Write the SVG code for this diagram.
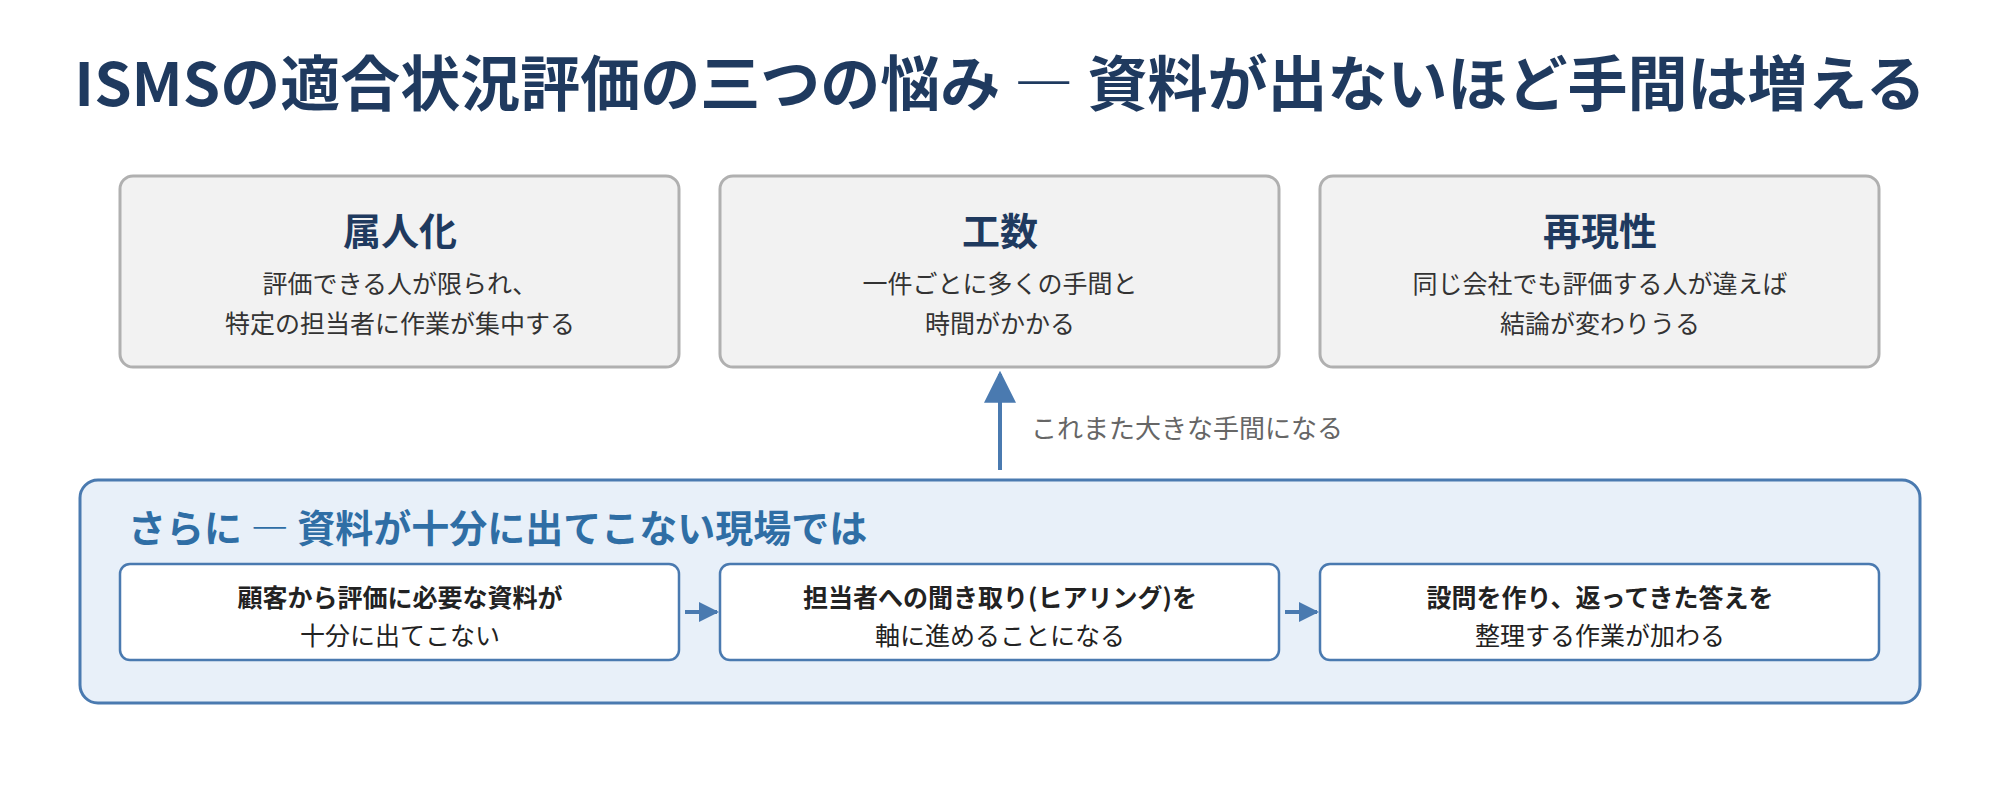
<svg xmlns="http://www.w3.org/2000/svg" width="2000" height="800" viewBox="0 0 2000 800">
<defs>
<style>
text{font-family:"Noto Sans CJK JP","Noto Sans",sans-serif;text-anchor:middle;dominant-baseline:central}
.title{font-size:60px;font-weight:700;fill:#1f3a5f}
.card{fill:#f2f2f2;stroke:#b0b0b0;stroke-width:3}
.h{font-size:38px;font-weight:700;fill:#1f3a5f}
.b{font-size:25px;fill:#333}
.step{fill:#fff;stroke:#4a7ab0;stroke-width:2.5}
.s1{font-size:25px;font-weight:700;fill:#222}
.s2{font-size:25px;fill:#222}
.lab{font-size:26px;fill:#666;text-anchor:start}
</style>
<marker id="ah" viewBox="0 0 10 10" refX="9" refY="5" markerWidth="8" markerHeight="8" orient="auto"><path d="M0,0L10,5L0,10z" fill="#4a7ab0"/></marker>
<marker id="ahs" viewBox="0 0 10 10" refX="9" refY="5" markerWidth="5" markerHeight="5" orient="auto"><path d="M0,0L10,5L0,10z" fill="#4a7ab0"/></marker>
</defs>
<text class="title" x="1000" y="79">ISMSの適合状況評価の三つの悩み ― 資料が出ないほど手間は増える</text>
<g id="card1"><rect class="card" x="120" y="176" width="559" height="191" rx="13"/><text class="h" x="400" y="228">属人化</text><text class="b" x="400" y="282">評価できる人が限られ、</text><text class="b" x="400" y="322">特定の担当者に作業が集中する</text></g>
<g id="card2"><rect class="card" x="720" y="176" width="559" height="191" rx="13"/><text class="h" x="1000" y="228">工数</text><text class="b" x="1000" y="282">一件ごとに多くの手間と</text><text class="b" x="1000" y="322">時間がかかる</text></g>
<g id="card3"><rect class="card" x="1320" y="176" width="559" height="191" rx="13"/><text class="h" x="1600" y="228">再現性</text><text class="b" x="1600" y="282">同じ会社でも評価する人が違えば</text><text class="b" x="1600" y="322">結論が変わりうる</text></g>
<g id="panel"><rect x="80" y="480" width="1840" height="223" rx="18" fill="#e8f0f9" stroke="#4a7ab0" stroke-width="3"/><text x="128" y="525" style="text-anchor:start;font-size:38px;font-weight:700;fill:#2f6ea5">さらに ― 資料が十分に出てこない現場では</text></g>
<g id="step1"><rect class="step" x="120" y="564" width="559" height="96" rx="10"/><text class="s1" x="400" y="596">顧客から評価に必要な資料が</text><text class="s2" x="400" y="634">十分に出てこない</text></g>
<g id="step2"><rect class="step" x="720" y="564" width="559" height="96" rx="10"/><text class="s1" x="1000" y="596">担当者への聞き取り(ヒアリング)を</text><text class="s2" x="1000" y="634">軸に進めることになる</text></g>
<g id="step3"><rect class="step" x="1320" y="564" width="559" height="96" rx="10"/><text class="s1" x="1600" y="596">設問を作り、返ってきた答えを</text><text class="s2" x="1600" y="634">整理する作業が加わる</text></g>
<g id="connectors" stroke="#4a7ab0" fill="none">
<line x1="1000" y1="470" x2="1000" y2="374" stroke-width="4" marker-end="url(#ah)"/>
<line x1="685" y1="612" x2="717" y2="612" stroke-width="4" marker-end="url(#ahs)"/>
<line x1="1285" y1="612" x2="1317" y2="612" stroke-width="4" marker-end="url(#ahs)"/>
</g>
<text class="lab" x="1031" y="426">これまた大きな手間になる</text>
</svg>
